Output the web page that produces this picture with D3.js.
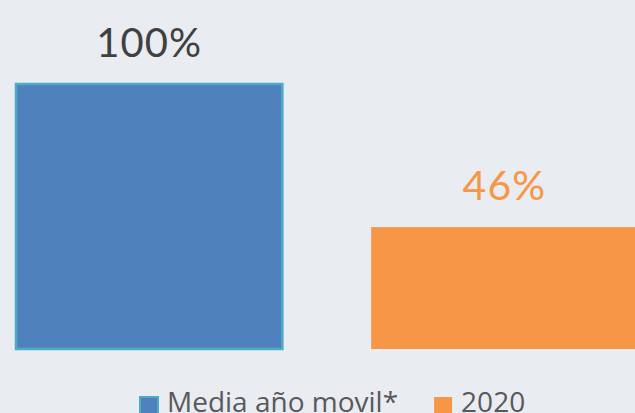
<!DOCTYPE html>
<html>
<head>
<meta charset="utf-8">
<script src="https://cdn.jsdelivr.net/npm/d3@7"></script>
<style>
  html, body { margin: 0; padding: 0; background: #E9ECF1; }
  svg { display: block; font-family: Lato, 'Open Sans', sans-serif; }
</style>
</head>
<body>
<div id="chart"></div>
<script>
// Data
const categories = ['Media año movil*', '2020'];
const values = [100, 46];
const valueLabels = ['100%', '46%'];

// Colors
const fillColors = ['#4F81BD', '#F79646'];
const strokeColors = ['#4BACC6', 'none'];
const labelColors = ['#404040', '#F79646'];
const labelSizes = [40, 41];

const W = 635, H = 413;

const svg = d3.select('#chart')
    .append('svg')
    .attr('width', W)
    .attr('height', H);

svg.append('rect')
    .attr('width', W)
    .attr('height', H)
    .attr('fill', '#E9ECF1');

// Scales
const xScale = d3.scaleBand()
    .domain(categories)
    .range([16, 637.5])
    .paddingInner(0.25)
    .paddingOuter(0);

const yScale = d3.scaleLinear()
    .domain([0, 100])
    .range([349, 84]);

// Bars
svg.selectAll('.bar')
    .data(categories)
    .enter().append('rect')
    .attr('class', 'bar')
    .attr('x', d => xScale(d))
    .attr('y', (d, i) => yScale(values[i]))
    .attr('width', xScale.bandwidth())
    .attr('height', (d, i) => yScale(0) - yScale(values[i]))
    .attr('fill', (d, i) => fillColors[i])
    .attr('stroke', (d, i) => strokeColors[i])
    .attr('stroke-width', 2.5);

// Value labels
svg.selectAll('.value-label')
    .data(categories)
    .enter().append('text')
    .attr('class', 'value-label')
    .attr('x', d => xScale(d) + xScale.bandwidth() / 2)
    .attr('y', (d, i) => yScale(values[i]) - 27)
    .attr('text-anchor', 'middle')
    .style('font-size', (d, i) => labelSizes[i] + 'px')
    .style('letter-spacing', '1px')
    .style('fill', (d, i) => labelColors[i])
    .text((d, i) => valueLabels[i]);

// Legend (text sits partly below the bottom edge, as in the original)
const legend = svg.append('g')
    .attr('class', 'legend');

let lx = 140;
categories.forEach((c, i) => {
    const item = legend.append('g')
        .attr('transform', `translate(${lx}, 397)`);
    item.append('rect')
        .attr('width', 18)
        .attr('height', 18)
        .attr('fill', fillColors[i])
        .attr('stroke', strokeColors[i])
        .attr('stroke-width', 2);
    const t = item.append('text')
        .attr('x', 27)
        .attr('y', 15)
        .style('font-family', "'Open Sans', sans-serif")
        .style('font-size', '28px')
        .style('fill', '#595959')
        .text(c);
    lx += 27 + t.node().getComputedTextLength() + 36;
});
</script>
</body>
</html>
